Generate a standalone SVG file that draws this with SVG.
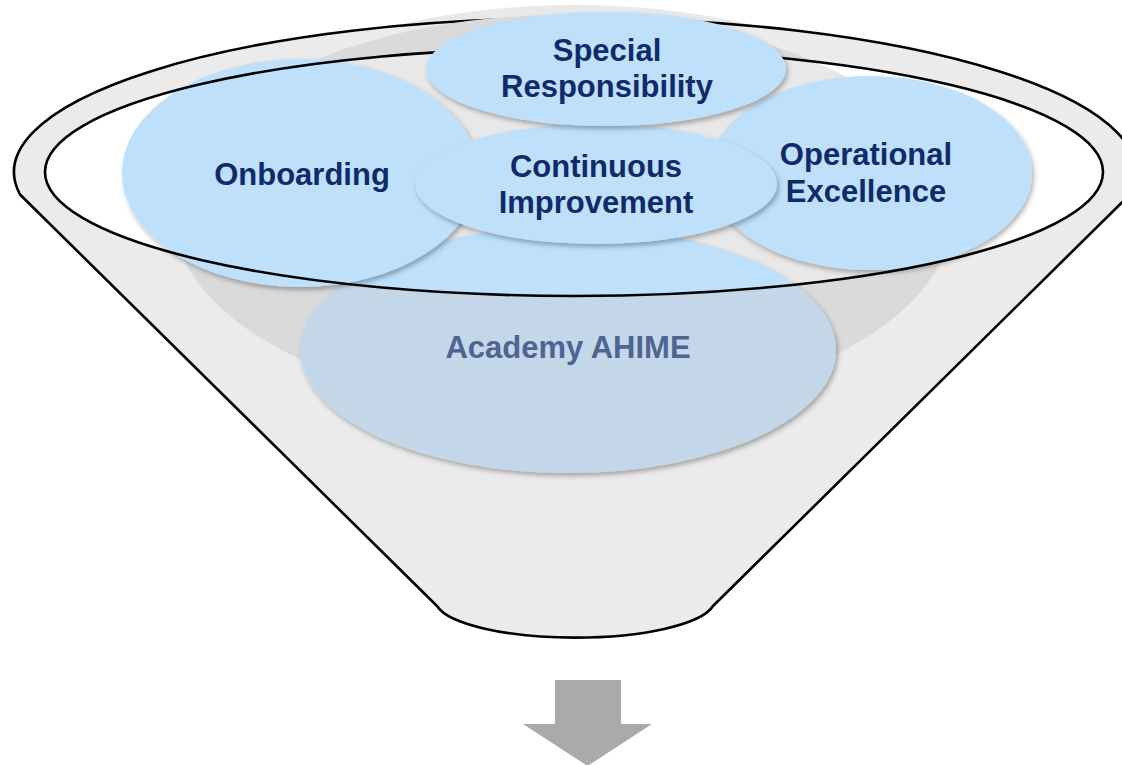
<svg xmlns="http://www.w3.org/2000/svg" width="1122" height="765" viewBox="0 0 1122 765">
  <style>
    .bubble { fill: #bee0fb; }
    .lbl { font-family: "Liberation Sans", Arial, sans-serif; font-weight: bold; font-size: 31px; fill: #102a6a; text-anchor: middle; }
    .lbl-muted { fill: #4e6591; }
    .rim { fill: none; stroke: #000; stroke-width: 2.6; }
  </style>
  <defs>
    <filter id="shadow" x="-10%" y="-10%" width="125%" height="130%">
      <feDropShadow dx="2" dy="3" stdDeviation="2.5" flood-color="#000" flood-opacity="0.3"/>
    </filter>
    <clipPath id="rimClip">
      <ellipse cx="574" cy="172" rx="529" ry="124"/>
    </clipPath>
  </defs>
  <rect width="1122" height="765" fill="#fff"/>

  <g id="funnel">
    <ellipse cx="575" cy="215" rx="417" ry="210" fill="#e9e9e9"/>
    <path d="M 20 194.5 A 561 154 0 1 1 1130 194.5 L 713 606 A 140 38 0 0 1 437 606 Z" fill="#ebebeb" stroke="#000" stroke-width="2.6" stroke-linejoin="round"/>
    <ellipse cx="563" cy="213" rx="390" ry="198" fill="#dadada"/>
    <ellipse cx="574" cy="172" rx="529" ry="124" fill="#fff"/>
    <ellipse cx="563" cy="213" rx="390" ry="198" fill="#e8e8e8" clip-path="url(#rimClip)"/>
  </g>

  <g id="node-academy">
    <g filter="url(#shadow)">
      <ellipse cx="568" cy="350" rx="268" ry="123" fill="#c4d7e9"/>
      <ellipse cx="568" cy="350" rx="268" ry="123" class="bubble" clip-path="url(#rimClip)"/>
    </g>
    <text x="568" y="358" class="lbl lbl-muted">Academy AHIME</text>
  </g>

  <g id="node-onboarding">
    <ellipse cx="300" cy="173" rx="178" ry="114" class="bubble" filter="url(#shadow)"/>
    <text x="302" y="185" class="lbl">Onboarding</text>
  </g>

  <g id="node-operational">
    <ellipse cx="870" cy="173" rx="162" ry="97" class="bubble" filter="url(#shadow)"/>
    <text x="866" y="165" class="lbl">Operational</text>
    <text x="866" y="202" class="lbl">Excellence</text>
  </g>

  <g id="node-continuous">
    <ellipse cx="596" cy="184" rx="181" ry="60" class="bubble" filter="url(#shadow)"/>
    <text x="596" y="177" class="lbl">Continuous</text>
    <text x="596" y="213" class="lbl">Improvement</text>
  </g>

  <g id="rim-line">
    <ellipse cx="574" cy="172" rx="529" ry="124" class="rim"/>
  </g>

  <g id="node-special">
    <ellipse cx="606" cy="69" rx="180" ry="57" class="bubble" filter="url(#shadow)"/>
    <text x="607" y="61" class="lbl">Special</text>
    <text x="607" y="97" class="lbl">Responsibility</text>
  </g>

  <g id="connectors">
    <polygon points="555,680 621,680 621,724 652,724 587.5,766 523,724 555,724" fill="#aaaaaa"/>
  </g>
</svg>
